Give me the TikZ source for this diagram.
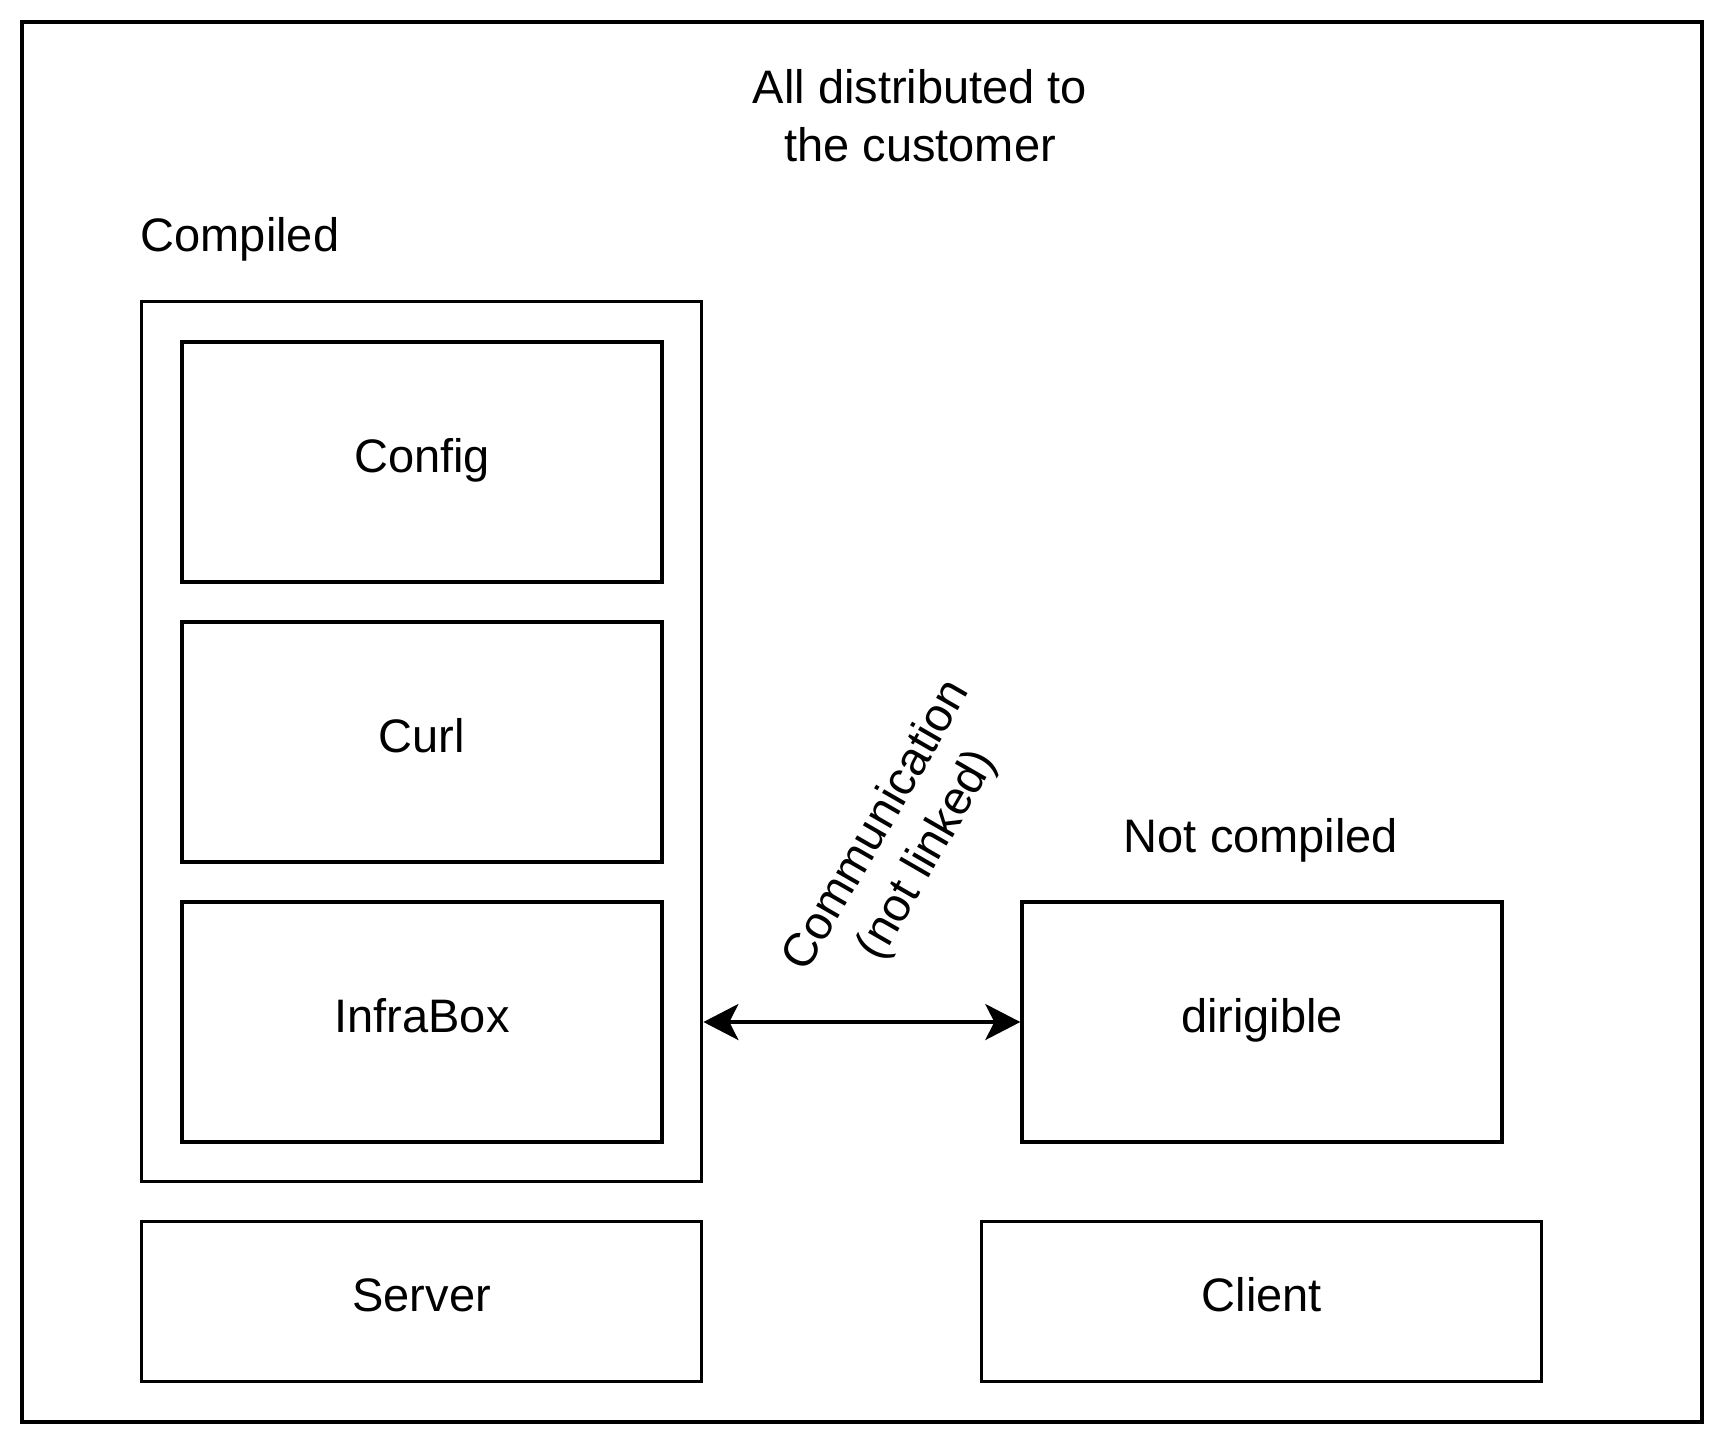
\documentclass[tikz,border=0pt]{standalone}
\usepackage{fontspec}
\setmainfont{Liberation Sans}
\usetikzlibrary{arrows.meta}
\begin{document}
\begin{tikzpicture}[x=1pt,y=-1pt,
  box/.style={draw=black,line width=3.4pt,inner sep=0pt,align=center,text height=34pt,text depth=14pt,font=\fontsize{47}{58}\selectfont},
  lbl/.style={inner sep=0pt,align=center,font=\fontsize{47}{58}\selectfont},
  conn/.style={line width=3.4pt,{Stealth[length=35pt,width=36pt,inset=9pt]}-{Stealth[length=35pt,width=36pt,inset=9pt]}}]
\useasboundingbox (0,0) rectangle (1724,1444);
\node[box,minimum width=1680pt,minimum height=1400pt] (outer) at (862,722) {};
\node[lbl] (title) at (920,116) {All distributed to\\the customer};
\node[lbl] (compiledlbl) at (240,239.5) {Compiled};
\node[box,minimum width=560pt,minimum height=880pt] (compiled) at (421.7,741.7) {};
\node[box,minimum width=480pt,minimum height=240pt] (config) at (422,462) {Config};
\node[box,minimum width=480pt,minimum height=240pt] (curl) at (422,742) {Curl};
\node[box,minimum width=480pt,minimum height=240pt] (infrabox) at (422,1022) {InfraBox};
\node[lbl] (notcompiledlbl) at (1261,840) {Not compiled};
\node[box,minimum width=480pt,minimum height=240pt] (dirigible) at (1262,1022) {dirigible};
\node[box,minimum width=560pt,minimum height=160pt] (server) at (421.7,1301.7) {Server};
\node[box,minimum width=560pt,minimum height=160pt] (client) at (1261.7,1301.7) {Client};
\node[lbl,rotate=60] (comm) at (903,841) {Communication\\(not linked)};
\draw[conn] (compiled.east |- dirigible.west) -- (dirigible.west);
\end{tikzpicture}
\end{document}
